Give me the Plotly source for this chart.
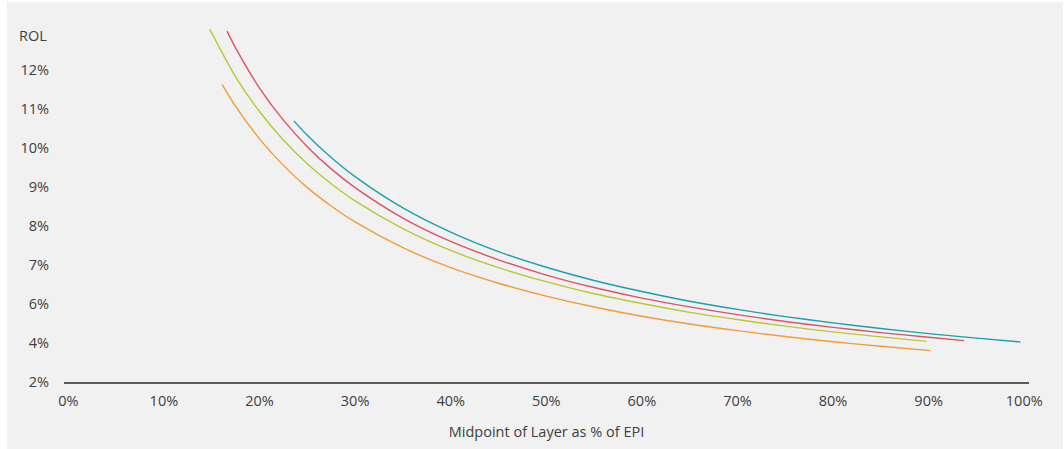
import numpy as np
import plotly.graph_objects as go

# Y-axis tick labels (the label spacing on this axis is not uniform in value)
y_tick_values = [2, 4, 6, 7, 8, 9, 10, 11, 12]
y_tick_text = ["2%", "4%", "6%", "7%", "8%", "9%", "10%", "11%", "12%"]

# X-axis tick labels
x_tick_values = [0, 10, 20, 30, 40, 50, 60, 70, 80, 90, 100]
x_tick_text = [f"{v}%" for v in x_tick_values]

# Rate on line (%) against layer midpoint (% of EPI), one list pair per curve
teal_x = [23.6, 25, 27.5, 30, 35, 40, 45, 50, 55, 60, 65, 70, 75, 80, 85, 90, 95, 99.6]
teal_y = [10.69, 10.32, 9.75, 9.26, 8.46, 7.84, 7.34, 6.94, 6.60, 6.32, 6.07,
          5.72, 5.35, 5.03, 4.74, 4.48, 4.25, 4.05]

red_x = [16.6, 17.5, 20, 22.5, 25, 27.5, 30, 35, 40, 45, 50, 55, 60, 65, 70,
         75, 80, 85, 90, 93.7]
red_y = [12.99, 12.56, 11.53, 10.71, 10.03, 9.46, 8.98, 8.20, 7.60, 7.13, 6.74,
         6.42, 6.15, 5.85, 5.45, 5.10, 4.80, 4.53, 4.29, 4.12]

green_x = [14.8, 17.5, 20, 22.5, 25, 27.5, 30, 35, 40, 45, 50, 55, 60, 65, 70,
           75, 80, 85, 89.8]
green_y = [13.04, 11.82, 10.93, 10.20, 9.59, 9.08, 8.64, 7.93, 7.37, 6.93, 6.57,
           6.26, 6.01, 5.57, 5.20, 4.86, 4.57, 4.31, 4.08]

orange_x = [16.1, 17.5, 20, 22.5, 25, 27.5, 30, 35, 40, 45, 50, 55, 60, 65, 70,
            75, 80, 85, 90.2]
orange_y = [11.62, 11.06, 10.23, 9.55, 8.98, 8.51, 8.10, 7.44, 6.93, 6.53, 6.20,
            5.84, 5.37, 4.97, 4.63, 4.33, 4.06, 3.83, 3.61]

series = [
    (teal_x, teal_y, "#1a9fae"),
    (red_x, red_y, "#df5262"),
    (green_x, green_y, "#b6c835"),
    (orange_x, orange_y, "#f59a38"),
]

# Evenly spaced label slots on the axis; values map piecewise onto them
slots = np.arange(len(y_tick_values))


def to_axis(values):
    v = np.asarray(values, dtype=float)
    pos = np.interp(v, y_tick_values, slots)
    pos = pos + np.where(v > y_tick_values[-1], v - y_tick_values[-1], 0.0)
    pos = pos + np.where(v < y_tick_values[0], (v - y_tick_values[0]) / 2.0, 0.0)
    return pos


fig = go.Figure()
for xs, ys, color in series:
    fig.add_trace(
        go.Scatter(
            x=xs,
            y=to_axis(ys),
            mode="lines",
            line=dict(color=color, width=1.4, shape="spline", smoothing=0.8),
            hoverinfo="skip",
            showlegend=False,
        )
    )

font_family = "Open Sans, Noto Sans, sans-serif"
text_color = "#404040"
panel = "#f1f1f1"
tick_size = 14.5

fig.update_layout(
    width=1064,
    height=449,
    margin=dict(l=64, r=35, t=19, b=67),
    paper_bgcolor="white",
    plot_bgcolor=panel,
    font=dict(family=font_family, size=tick_size, color=text_color),
    shapes=[
        dict(
            type="rect",
            xref="paper",
            yref="paper",
            x0=(7 - 64) / 965,
            x1=(1063 - 64) / 965,
            y0=(382 - 449) / 363,
            y1=(382 - 2) / 363,
            fillcolor=panel,
            line=dict(width=0),
            layer="below",
        )
    ],
    xaxis=dict(
        range=[-0.45, 100.5],
        tickvals=x_tick_values,
        ticktext=x_tick_text,
        showgrid=False,
        zeroline=False,
        showline=True,
        linecolor="#5a5a5a",
        linewidth=1.5,
        ticks="",
        ticklabelstandoff=5,
        tickfont=dict(size=tick_size, color=text_color),
        title=dict(
            text="Midpoint of Layer as % of EPI",
            font=dict(size=14.5, color=text_color),
            standoff=18,
        ),
    ),
    yaxis=dict(
        range=[0, 9.3],
        tickvals=list(slots),
        ticktext=y_tick_text,
        showgrid=False,
        zeroline=False,
        showline=False,
        ticks="",
        ticklabelstandoff=14,
        tickfont=dict(size=tick_size, color=text_color),
    ),
    annotations=[
        dict(
            text="ROL",
            xref="paper",
            yref="paper",
            x=(49 - 64) / 965,
            y=(382 - 35) / 363,
            xanchor="right",
            yanchor="middle",
            showarrow=False,
            font=dict(size=tick_size, color=text_color),
        )
    ],
)

fig.write_html("out.html")
